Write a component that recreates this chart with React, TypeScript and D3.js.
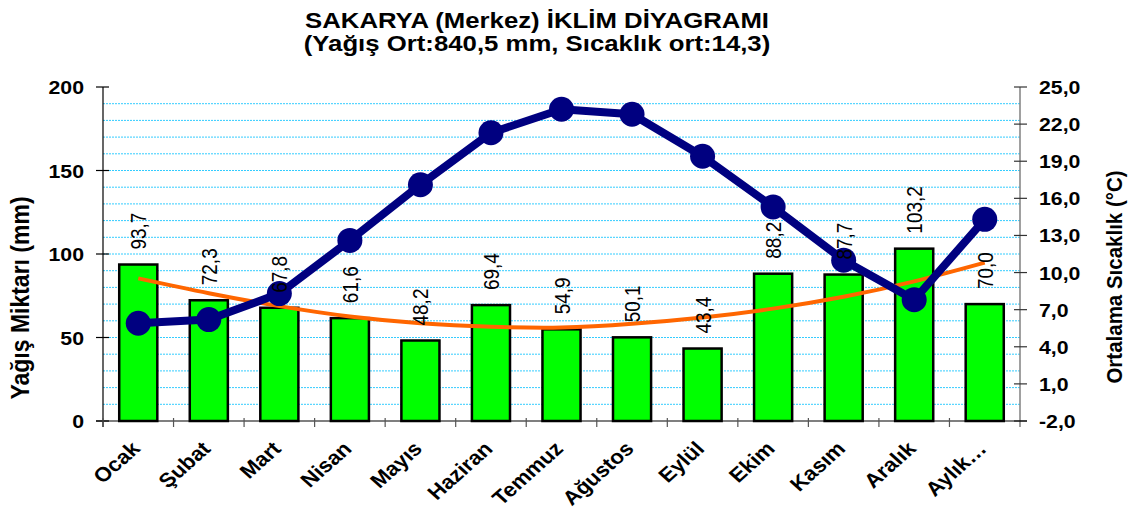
import React from "react";
import * as d3 from "d3";

// data
const months = ["Ocak", "Şubat", "Mart", "Nisan", "Mayıs", "Haziran", "Temmuz", "Ağustos", "Eylül", "Ekim", "Kasım", "Aralık", "Aylık…"];
const rain = [93.7, 72.3, 67.8, 61.6, 48.2, 69.4, 54.9, 50.1, 43.4, 88.2, 87.7, 103.2, 70.0];
const temp = [5.9, 6.2, 8.3, 12.6, 17.1, 21.3, 23.2, 22.8, 19.4, 15.3, 11.0, 7.8, 14.3];
// polynomial trend of rainfall, as drawn in the picture
const rainTrend = [85.4, 76.5, 68.8, 62.6, 58.6, 56.5, 56.0, 58.2, 62.0, 67.3, 74.4, 83.6, 94.8];
const leftTicks = [0, 50, 100, 150, 200];
const rightTicks = [-2, 1, 4, 7, 10, 13, 16, 19, 22, 25];
const gridValues = d3.range(10, 200, 10);

const W = 1134, H = 510;
const plot = { left: 103, right: 1020, top: 87, bottom: 421 };
const font = "'Liberation Sans', Arial, sans-serif";
const SX = 1.12; // glyphs in the picture are a bit wider than tall

export default function App() {
  const x = d3.scaleBand<string>().domain(months).range([plot.left, plot.right]);
  const yL = d3.scaleLinear().domain([0, 200]).range([plot.bottom, plot.top]);
  const yR = d3.scaleLinear().domain([-2, 25]).range([plot.bottom, plot.top]);
  const bw = x.bandwidth() * 0.54;
  const cx = (m: string) => (x(m) as number) + x.bandwidth() / 2;

  const tempLine = d3.line<number>().x((_, i) => cx(months[i])).y((d) => yR(d));
  const trendLine = d3
    .line<number>()
    .x((_, i) => cx(months[i]))
    .y((d) => yL(d))
    .curve(d3.curveNatural);

  const fmt = (v: number) => v.toFixed(1).replace(".", ",");

  return (
    <svg width={W} height={H} style={{ position: "absolute", left: 0, top: 0, background: "#fff" }} fontFamily={font}>
      {/* title */}
      <text transform={`translate(537,28) scale(${SX},1)`} textAnchor="middle" fontSize={23} fontWeight="bold">SAKARYA (Merkez) İKLİM DİYAGRAMI</text>
      <text transform={`translate(537,51) scale(${SX},1)`} textAnchor="middle" fontSize={23} fontWeight="bold">(Yağış Ort:840,5 mm, Sıcaklık ort:14,3)</text>

      {/* grid */}
      {gridValues.map((v) => (
        <line key={v} x1={plot.left} x2={plot.right} y1={yL(v)} y2={yL(v)} stroke="#33ccff" strokeWidth={1} strokeDasharray="2 1" />
      ))}

      {/* bars */}
      {months.map((m, i) => (
        <rect key={m} x={cx(m) - bw / 2} y={yL(rain[i])} width={bw} height={yL(0) - yL(rain[i])} fill="#00ff00" stroke="#000" strokeWidth={2.5} />
      ))}

      {/* left axis */}
      <line x1={plot.left} x2={plot.left} y1={plot.top} y2={plot.bottom + 6} stroke="#000" strokeWidth={1.2} />
      {leftTicks.map((v) => (
        <g key={v}>
          <line x1={plot.left - 7} x2={plot.left + 6} y1={yL(v)} y2={yL(v)} stroke="#000" strokeWidth={1.2} />
          <text transform={`translate(${plot.left - 19},${yL(v) + 7}) scale(${SX},1)`} textAnchor="end" fontSize={19} fontWeight="bold">{v}</text>
        </g>
      ))}

      {/* right axis */}
      <line x1={plot.right} x2={plot.right} y1={plot.top} y2={plot.bottom + 6} stroke="#808080" strokeWidth={1.5} />
      {rightTicks.map((v) => (
        <g key={v}>
          <line x1={plot.right - 6} x2={plot.right + 7} y1={yR(v)} y2={yR(v)} stroke="#333" strokeWidth={1.2} />
          <text transform={`translate(${plot.right + 19},${yR(v) + 7}) scale(${SX},1)`} textAnchor="start" fontSize={19} fontWeight="bold">{fmt(v)}</text>
        </g>
      ))}

      {/* bottom axis */}
      <line x1={plot.left - 7} x2={plot.right + 7} y1={plot.bottom} y2={plot.bottom} stroke="#000" strokeWidth={1.2} />
      {months.map((m) => (
        <line key={m} x1={x(m) as number} x2={x(m) as number} y1={plot.bottom - 3} y2={plot.bottom + 6} stroke="#555" strokeWidth={1.2} />
      ))}
      {months.map((m) => (
        <text key={m} transform={`translate(${cx(m) + 3},${plot.bottom + 29}) scale(${SX},1) rotate(-45)`} textAnchor="end" fontSize={20} fontWeight="bold">{m}</text>
      ))}

      {/* trend */}
      <path d={trendLine(rainTrend) as string} fill="none" stroke="#ff6600" strokeWidth={4} />

      {/* temperature */}
      <path d={tempLine(temp) as string} fill="none" stroke="#000080" strokeWidth={8} strokeLinejoin="round" />
      {temp.map((t, i) => (
        <circle key={i} cx={cx(months[i])} cy={yR(t)} r={12.5} fill="#000080" />
      ))}

      {/* bar labels */}
      {months.map((m, i) => (
        <text key={m} transform={`translate(${cx(m) + 8},${yL(rain[i]) - 15}) rotate(-90) scale(1,${SX})`} textAnchor="start" fontSize={19}>{fmt(rain[i])}</text>
      ))}

      {/* axis titles */}
      <text transform={`translate(29,298) rotate(-90) scale(1,${SX})`} textAnchor="middle" fontSize={23} fontWeight="bold">Yağış Miktarı (mm)</text>
      <text transform={`translate(1122,277) rotate(-90) scale(1,${SX})`} textAnchor="middle" fontSize={20.5} fontWeight="bold">Ortalama Sıcaklık (°C)</text>
    </svg>
  );
}
